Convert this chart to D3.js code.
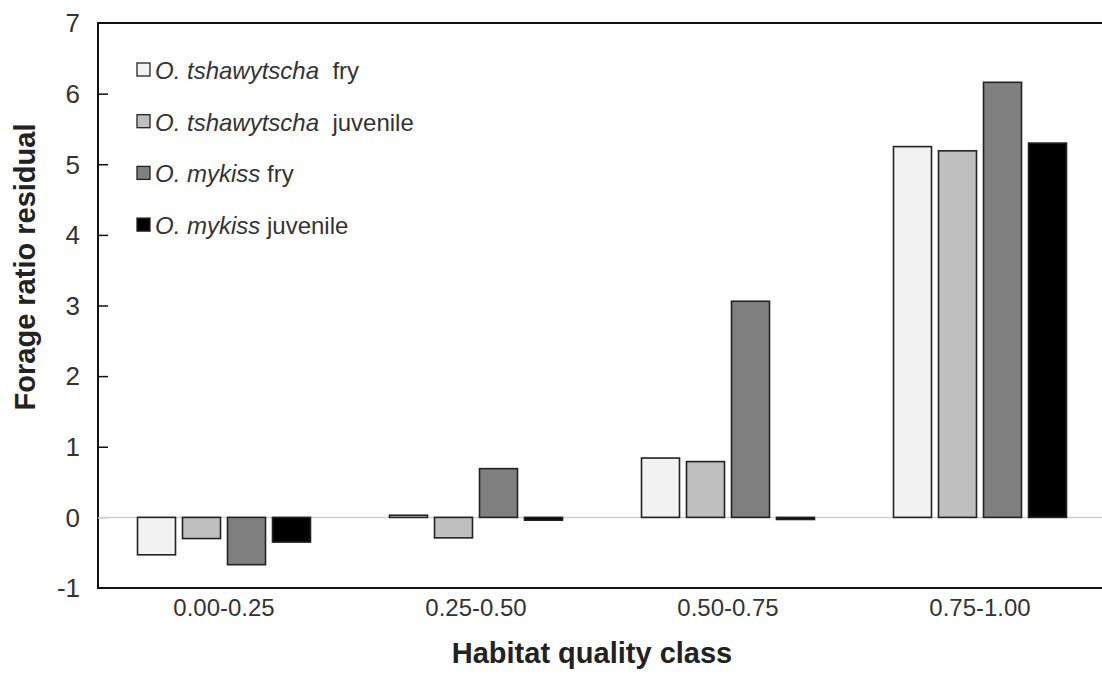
<!DOCTYPE html>
<html>
<head>
<meta charset="utf-8">
<script src="https://cdn.jsdelivr.net/npm/d3@7"></script>
<style>
  html, body { margin: 0; padding: 0; background: #fff; }
  svg { display: block; font-family: "Liberation Sans", Arial, sans-serif; }
</style>
</head>
<body>
<svg id="chart" width="1102" height="679"></svg>
<script>
// Habitat quality classes (x categories)
const categories = ["0.00-0.25", "0.25-0.50", "0.50-0.75", "0.75-1.00"];

// Series: species / life stage
const seriesGenus = ["O.", "O.", "O.", "O."];
const seriesSpecies = ["tshawytscha", "tshawytscha", "mykiss", "mykiss"];
const seriesStage = ["fry", "juvenile", "fry", "juvenile"];
const seriesColors = ["#f2f2f2", "#bfbfbf", "#808080", "#000000"];

// Forage ratio residual per habitat class, one array per series
const tshawytschaFry      = [-0.53,  0.03, 0.84, 5.25];
const tshawytschaJuvenile = [-0.30, -0.29, 0.79, 5.19];
const mykissFry           = [-0.67,  0.69, 3.06, 6.16];
const mykissJuvenile      = [-0.35, -0.04, -0.03, 5.30];

const seriesValues = [tshawytschaFry, tshawytschaJuvenile, mykissFry, mykissJuvenile];
const yTicks = [-1, 0, 1, 2, 3, 4, 5, 6, 7];

const svg = d3.select("#chart");
const plotLeft = 98, plotRight = 1106, plotTop = 23, plotBottom = 588;

const x0 = d3.scaleBand().domain(categories).range([plotLeft, plotRight]).paddingInner(0).paddingOuter(0);
const x1 = d3.scaleBand().domain(d3.range(4)).range([0, x0.bandwidth()])
  .paddingInner(0.1556).paddingOuter(0.8778);
const y = d3.scaleLinear().domain([-1, 7]).range([plotBottom, plotTop]);

// zero reference line
svg.append("line")
  .attr("x1", plotLeft).attr("x2", plotRight)
  .attr("y1", y(0)).attr("y2", y(0))
  .attr("stroke", "#d0d0d0").attr("stroke-width", 1.5);

// bars
const groups = svg.append("g").selectAll("g")
  .data(categories).join("g")
  .attr("transform", d => `translate(${x0(d)},0)`);

groups.selectAll("rect")
  .data((c, ci) => seriesValues.map((vals, si) => ({ si, v: vals[ci] })))
  .join("rect")
  .attr("x", d => x1(d.si))
  .attr("width", x1.bandwidth())
  .attr("y", d => y(Math.max(0, d.v)))
  .attr("height", d => Math.max(1, Math.abs(y(d.v) - y(0))))
  .attr("fill", d => seriesColors[d.si])
  .attr("stroke", "#222")
  .attr("stroke-width", 1.6);

// frame: left axis, top and bottom lines
svg.append("path")
  .attr("d", `M${plotRight},${plotTop}H${plotLeft}V${plotBottom}H${plotRight}`)
  .attr("fill", "none").attr("stroke", "#111").attr("stroke-width", 2);

// y axis ticks (inward) and labels
const yAxis = d3.axisLeft(y).tickValues(yTicks).tickSize(-10).tickFormat(d => String(d));
const ya = svg.append("g").attr("transform", `translate(${plotLeft},0)`).call(yAxis);
ya.select(".domain").remove();
ya.selectAll(".tick line")
  .attr("stroke", d => (d === 0 ? "#d0d0d0" : "#111"))
  .attr("stroke-width", 1.5)
  .attr("display", d => (d === 7 || d === -1 ? "none" : null));
ya.selectAll(".tick text")
  .attr("fill", "#333").attr("font-size", 26)
  .attr("font-family", "'Liberation Sans', Arial, sans-serif")
  .attr("x", -18).attr("dy", "0.34em");

// x axis labels
const xAxis = d3.axisBottom(x0).tickSize(0).tickPadding(11);
const xa = svg.append("g").attr("transform", `translate(0,${plotBottom})`).call(xAxis);
xa.select(".domain").remove();
xa.selectAll(".tick text")
  .attr("fill", "#333").attr("font-size", 24)
  .attr("font-family", "'Liberation Sans', Arial, sans-serif");

// axis titles
svg.append("text")
  .attr("x", 592).attr("y", 663)
  .attr("text-anchor", "middle")
  .attr("font-size", 29).attr("font-weight", "bold").attr("fill", "#222")
  .text("Habitat quality class");

svg.append("text")
  .attr("transform", "translate(35,267) rotate(-90)")
  .attr("text-anchor", "middle")
  .attr("font-size", 29).attr("font-weight", "bold").attr("fill", "#222")
  .text("Forage ratio residual");

// legend
const legend = svg.append("g").attr("transform", "translate(137,70)");
const rows = legend.selectAll("g").data(d3.range(4)).join("g")
  .attr("transform", i => `translate(0,${i * 51.7})`);
rows.append("rect")
  .attr("x", 0).attr("y", -7).attr("width", 13).attr("height", 13)
  .attr("fill", i => seriesColors[i]).attr("stroke", "#222").attr("stroke-width", 1.3);
const lt = rows.append("text")
  .attr("x", 18).attr("y", 9)
  .attr("font-size", 24).attr("fill", "#333")
  .style("white-space", "pre");
lt.append("tspan").attr("font-style", "italic").text(i => seriesGenus[i] + " " + seriesSpecies[i]);
lt.append("tspan").text(i => (seriesSpecies[i] === "tshawytscha" ? "  " : " ") + seriesStage[i]);
</script>
</body>
</html>
